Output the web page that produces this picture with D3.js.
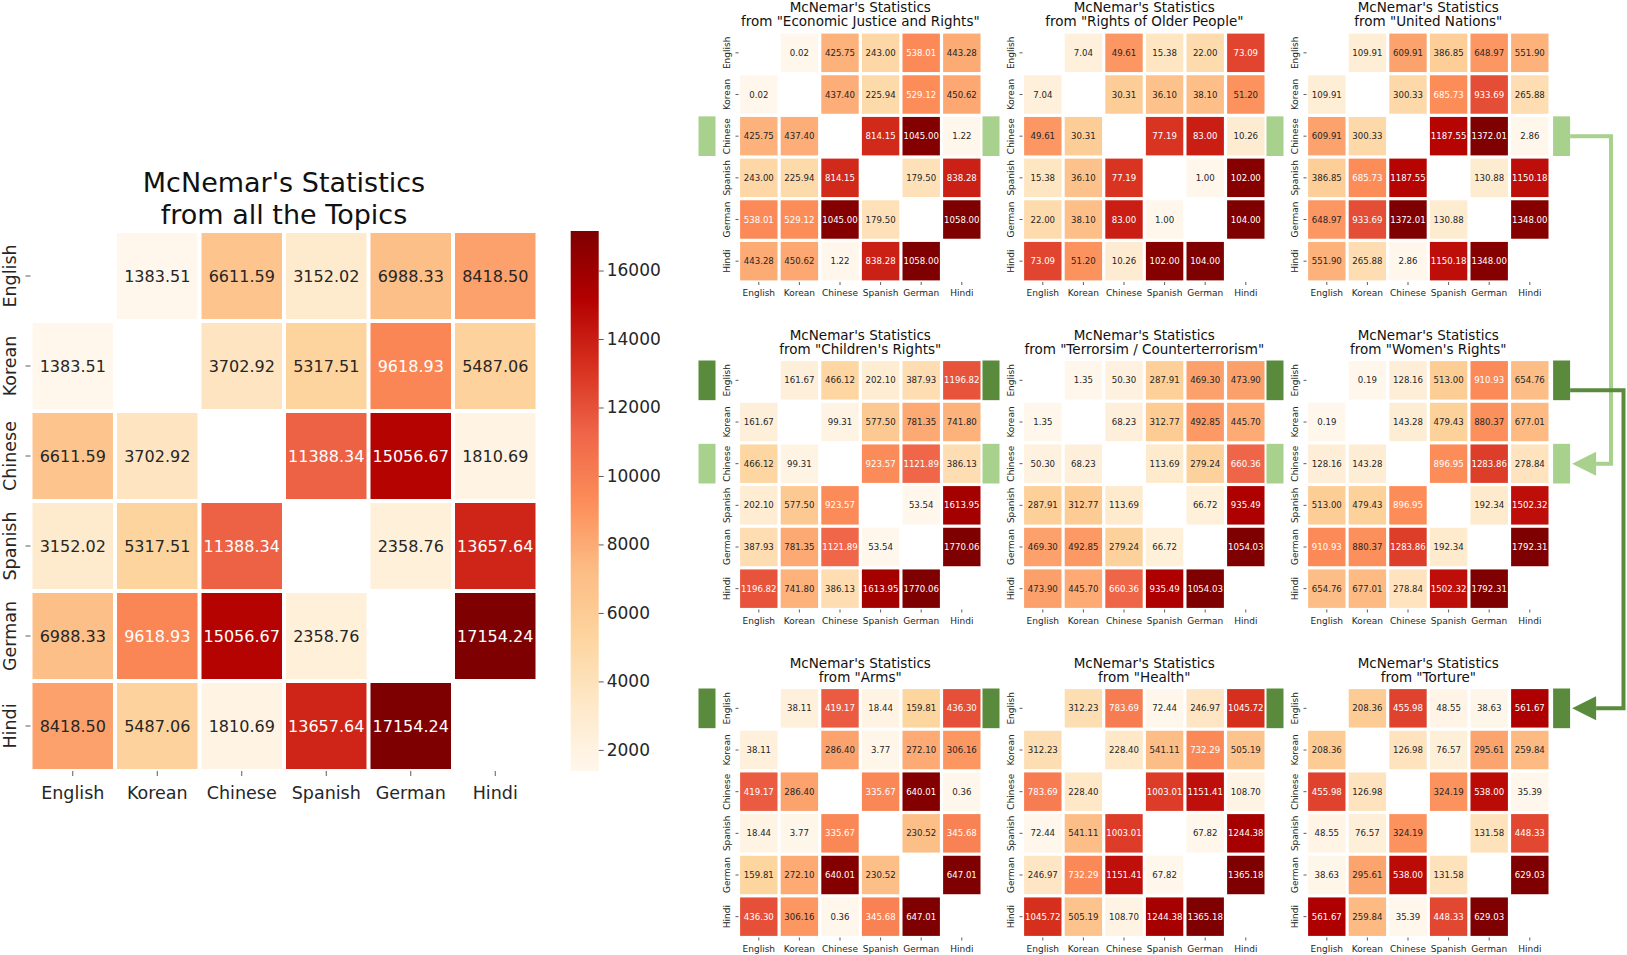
<!DOCTYPE html>
<html>
<head>
<meta charset="utf-8">
<script src="https://cdn.jsdelivr.net/npm/d3@7"></script>
<style>
    body { margin: 0; background: #ffffff; }
    text { font-family: "DejaVu Sans", sans-serif; }
</style>
</head>
<body>
<svg id="chart" width="1627" height="955"></svg>
<script>
// Languages (rows and columns of every matrix)
var languages = ["English", "Korean", "Chinese", "Spanish", "German", "Hindi"];

// Pairwise values, order: EN-KO, EN-ZH, EN-ES, EN-DE, EN-HI, KO-ZH, KO-ES, KO-DE, KO-HI,
// ZH-ES, ZH-DE, ZH-HI, ES-DE, ES-HI, DE-HI
var allTopics        = [1383.51, 6611.59, 3152.02, 6988.33, 8418.50, 3702.92, 5317.51, 9618.93, 5487.06, 11388.34, 15056.67, 1810.69, 2358.76, 13657.64, 17154.24];
var economicJustice  = [0.02, 425.75, 243.00, 538.01, 443.28, 437.40, 225.94, 529.12, 450.62, 814.15, 1045.00, 1.22, 179.50, 838.28, 1058.00];
var olderPeople      = [7.04, 49.61, 15.38, 22.00, 73.09, 30.31, 36.10, 38.10, 51.20, 77.19, 83.00, 10.26, 1.00, 102.00, 104.00];
var unitedNations    = [109.91, 609.91, 386.85, 648.97, 551.90, 300.33, 685.73, 933.69, 265.88, 1187.55, 1372.01, 2.86, 130.88, 1150.18, 1348.00];
var childrensRights  = [161.67, 466.12, 202.10, 387.93, 1196.82, 99.31, 577.50, 781.35, 741.80, 923.57, 1121.89, 386.13, 53.54, 1613.95, 1770.06];
var terrorism        = [1.35, 50.30, 287.91, 469.30, 473.90, 68.23, 312.77, 492.85, 445.70, 113.69, 279.24, 660.36, 66.72, 935.49, 1054.03];
var womensRights     = [0.19, 128.16, 513.00, 910.93, 654.76, 143.28, 479.43, 880.37, 677.01, 896.95, 1283.86, 278.84, 192.34, 1502.32, 1792.31];
var arms             = [38.11, 419.17, 18.44, 159.81, 436.30, 286.40, 3.77, 272.10, 306.16, 335.67, 640.01, 0.36, 230.52, 345.68, 647.01];
var health           = [312.23, 783.69, 72.44, 246.97, 1045.72, 228.40, 541.11, 732.29, 505.19, 1003.01, 1151.41, 108.70, 67.82, 1244.38, 1365.18];
var torture          = [208.36, 455.98, 48.55, 38.63, 561.67, 126.98, 76.57, 295.61, 259.84, 324.19, 538.00, 35.39, 131.58, 448.33, 629.03];

var topicNames  = ["Economic Justice and Rights", "Rights of Older People", "United Nations",
                   "Children's Rights", "Terrorsim / Counterterrorism", "Women's Rights",
                   "Arms", "Health", "Torture"];
var topicValues = [economicJustice, olderPeople, unitedNations,
                   childrensRights, terrorism, womensRights,
                   arms, health, torture];

var colorbarTicks = [2000, 4000, 6000, 8000, 10000, 12000, 14000, 16000];

// OrRd, linear like matplotlib
var orRdStops = ["#fff7ec", "#fee8c8", "#fdd49e", "#fdbb84", "#fc8d59", "#ef6548", "#d7301f", "#b30000", "#7f0000"];
var darkText = "#262626";
var lightGreen = "#a9d18e";
var darkGreen = "#5a8b3d";

var svg = d3.select("#chart");

function pairsToMatrix(pairs) {
    var n = languages.length, k = 0;
    var m = d3.range(n).map(function() { return d3.range(n).map(function() { return null; }); });
    for (var i = 0; i < n; i++) {
        for (var j = i + 1; j < n; j++) {
            m[i][j] = pairs[k];
            m[j][i] = pairs[k];
            k++;
        }
    }
    return m;
}

function orRd(extent) {
    var domain = orRdStops.map(function(c, i) {
        return extent[0] + i * (extent[1] - extent[0]) / (orRdStops.length - 1);
    });
    return d3.scaleLinear().domain(domain).range(orRdStops).interpolate(d3.interpolateRgb);
}

// same rule as seaborn: dark text on light cells
function textColor(c) {
    var rgb = d3.rgb(c);
    var lin = [rgb.r, rgb.g, rgb.b].map(function(v) {
        v /= 255;
        return v <= 0.03928 ? v / 12.92 : Math.pow((v + 0.055) / 1.055, 2.4);
    });
    var lum = 0.2126 * lin[0] + 0.7152 * lin[1] + 0.0722 * lin[2];
    return lum > 0.408 ? darkText : "#ffffff";
}

function drawHeatmap(cfg) {
    var matrix = pairsToMatrix(cfg.pairs);
    var x = d3.scaleBand().domain(languages).range([cfg.left, cfg.left + cfg.width]);
    var y = d3.scaleBand().domain(languages).range([cfg.top, cfg.top + cfg.height]);
    var color = orRd(d3.extent(cfg.pairs));

    var cells = [];
    matrix.forEach(function(row, i) {
        row.forEach(function(v, j) {
            if (v !== null) cells.push({ row: languages[i], col: languages[j], value: v });
        });
    });

    var g = svg.append("g").attr("class", "heatmap");

    var cell = g.selectAll("g.cell").data(cells).enter().append("g").attr("class", "cell");
    cell.append("rect")
        .attr("x", function(d) { return x(d.col) + cfg.inset; })
        .attr("y", function(d) { return y(d.row) + cfg.inset; })
        .attr("width", x.bandwidth() - 2 * cfg.inset)
        .attr("height", y.bandwidth() - 2 * cfg.inset)
        .attr("fill", function(d) { return color(d.value); });
    cell.append("text")
        .attr("x", function(d) { return x(d.col) + x.bandwidth() / 2; })
        .attr("y", function(d) { return y(d.row) + y.bandwidth() / 2; })
        .attr("dy", "0.36em")
        .attr("text-anchor", "middle")
        .style("font-size", cfg.valueSize + "px")
        .attr("fill", function(d) { return textColor(color(d.value)); })
        .text(function(d) { return d.value.toFixed(2); });

    // y axis, rotated labels
    var yAxis = g.append("g")
        .attr("transform", "translate(" + cfg.left + ",0)")
        .call(d3.axisLeft(y).tickSize(cfg.tickLen));
    yAxis.select(".domain").remove();
    yAxis.selectAll("line").attr("stroke", "#333").attr("stroke-width", 0.8);
    yAxis.selectAll("text")
        .attr("x", null).attr("dy", null)
        .attr("text-anchor", "middle")
        .attr("fill", darkText)
        .attr("transform", "translate(" + (-cfg.yLabelOff) + ",0) rotate(-90)")
        .style("font-size", cfg.labelSize + "px");

    // x axis
    var xAxis = g.append("g")
        .attr("transform", "translate(0," + (cfg.top + cfg.height) + ")")
        .call(d3.axisBottom(x).tickSize(cfg.tickLen));
    xAxis.select(".domain").remove();
    xAxis.selectAll("line").attr("stroke", "#333").attr("stroke-width", 0.8);
    xAxis.selectAll("text")
        .attr("y", cfg.xLabelOff).attr("dy", null)
        .attr("fill", darkText)
        .style("font-size", cfg.labelSize + "px");

    // title, two lines
    var cx = cfg.left + cfg.width / 2;
    cfg.title.forEach(function(line, i) {
        g.append("text")
            .attr("x", cx)
            .attr("y", cfg.top - cfg.titleBase[i])
            .attr("text-anchor", "middle")
            .attr("fill", "#111")
            .style("font-size", cfg.titleSize + "px")
            .text(line);
    });

    return { x: x, y: y, color: color };
}

// Main heatmap
var main = {
    left: 30.5, top: 231, width: 507, height: 540,
    pairs: allTopics,
    title: ["McNemar's Statistics", "from all the Topics"],
    titleBase: [39, 7], titleSize: 27,
    valueSize: 16, labelSize: 17.5, inset: 2,
    tickLen: 5, yLabelOff: 14.5, xLabelOff: 28
};
var mainScales = drawHeatmap(main);

// Colorbar
var cbLeft = 570.7, cbWidth = 28;
var cbExtent = d3.extent(allTopics);
var cbScale = d3.scaleLinear().domain(cbExtent).range([main.top + main.height, main.top]);

var grad = svg.append("defs").append("linearGradient")
    .attr("id", "cbGrad")
    .attr("x1", 0).attr("y1", 1).attr("x2", 0).attr("y2", 0);
orRdStops.forEach(function(c, i) {
    grad.append("stop").attr("offset", (i / (orRdStops.length - 1) * 100) + "%").attr("stop-color", c);
});
svg.append("rect")
    .attr("x", cbLeft).attr("y", cbScale(cbExtent[1]))
    .attr("width", cbWidth)
    .attr("height", cbScale(cbExtent[0]) - cbScale(cbExtent[1]))
    .attr("fill", "url(#cbGrad)");

var cbAxis = svg.append("g")
    .attr("transform", "translate(" + (cbLeft + cbWidth) + ",0)")
    .call(d3.axisRight(cbScale).tickValues(colorbarTicks).tickSize(5).tickPadding(3).tickFormat(d3.format("d")));
cbAxis.select(".domain").remove();
cbAxis.selectAll("line").attr("stroke", "#333").attr("stroke-width", 0.8);
cbAxis.selectAll("text").attr("fill", darkText).style("font-size", "17px");

// Small heatmaps, 3 x 3
var panelLefts = [738.5, 1022.5, 1306.5];
var panelTops = [32, 359.5, 687.5];
var panelW = 243.6, panelH = 250;

var panels = [];
topicNames.forEach(function(name, i) {
    var cfg = {
        left: panelLefts[i % 3], top: panelTops[Math.floor(i / 3)],
        width: panelW, height: panelH,
        pairs: topicValues[i],
        title: ["McNemar's Statistics", "from \"" + name + "\""],
        titleBase: [20, 6], titleSize: 13.5,
        valueSize: 8.6, labelSize: 9, inset: 1.6,
        tickLen: 3, yLabelOff: 8.5, xLabelOff: 14
    };
    cfg.scales = drawHeatmap(cfg);
    panels.push(cfg);
});

// Green row markers
function marker(panel, lang, side, fill) {
    var y = panel.scales.y;
    var x0 = side === "left" ? panel.left - 40 : panel.left + panel.width + 3;
    svg.append("rect")
        .attr("x", x0)
        .attr("y", y(lang) + 1)
        .attr("width", 17)
        .attr("height", y.bandwidth() - 2)
        .attr("fill", fill);
}

panels.forEach(function(p, i) {
    var row = Math.floor(i / 3);
    if (row >= 1) marker(p, "English", "left", darkGreen);
    if (row <= 1) marker(p, "Chinese", "left", lightGreen);
});
marker(panels[2], "Chinese", "right", lightGreen);
marker(panels[5], "English", "right", darkGreen);
marker(panels[5], "Chinese", "right", lightGreen);
marker(panels[8], "English", "right", darkGreen);

// Connector arrows
function connector(fromPanel, fromLang, fromShift, toPanel, toLang, railX, fill) {
    var edge = fromPanel.left + fromPanel.width + 20;
    var y0 = fromPanel.scales.y(fromLang) + fromPanel.scales.y.bandwidth() / 2 + fromShift;
    var y1 = toPanel.scales.y(toLang) + toPanel.scales.y.bandwidth() / 2;
    var tip = toPanel.left + toPanel.width + 22;
    var base = tip + 24;
    svg.append("path")
        .attr("d", d3.line()([[edge, y0], [railX, y0], [railX, y1], [base, y1]]))
        .attr("fill", "none")
        .attr("stroke", fill)
        .attr("stroke-width", 4);
    svg.append("path")
        .attr("d", d3.line()([[tip, y1], [base, y1 - 12], [base, y1 + 12]]) + "Z")
        .attr("fill", fill);
}

connector(panels[2], "Chinese", 0, panels[5], "Chinese", 1611, lightGreen);
connector(panels[5], "English", 10, panels[8], "English", 1623.5, darkGreen);
</script>
</body>
</html>
